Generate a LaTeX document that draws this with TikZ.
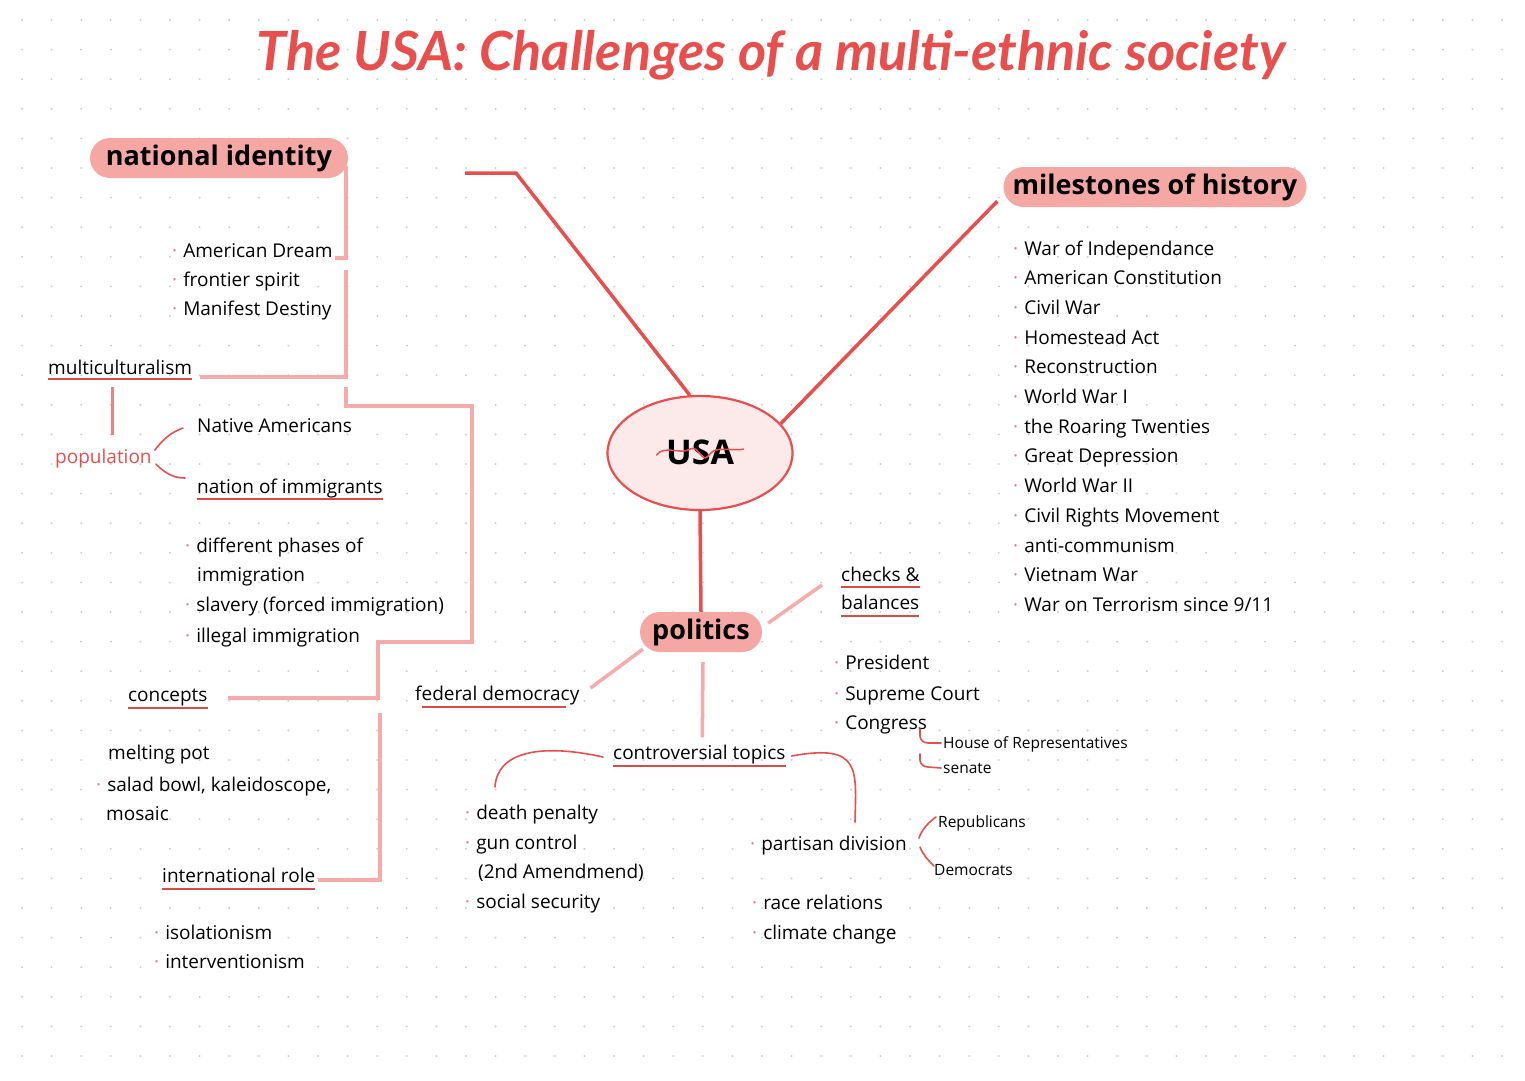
\documentclass[tikz,border=0pt]{standalone}
\usepackage{fontspec}
\setmainfont{Open Sans}
\newfontfamily\titlefont{Lato}
\usetikzlibrary{calc,shapes.geometric}
\definecolor{tred}{HTML}{E84F4C}
\definecolor{pinkfill}{HTML}{F5A7A4}
\definecolor{pinkline}{HTML}{F6AAAA}
\definecolor{midred}{HTML}{EE8080}
\definecolor{ulred}{HTML}{D94A48}
\definecolor{dotc}{HTML}{CFCFCF}
\definecolor{usafill}{HTML}{FCE9E9}
\definecolor{bul}{HTML}{E88080}
\newcommand{\bl}{{\color{bul}·}\hspace{6pt}}
\tikzset{
  txt/.style={anchor=base west, yshift=-7pt, inner sep=0pt, font=\fontsize{19}{22}\selectfont, text=black},
  smalltxt/.style={txt, yshift=1pt, font=\fontsize{15.5}{18}\selectfont},
  pill/.style={rounded corners=20pt, fill=pinkfill, inner sep=0pt, minimum height=40pt, font=\fontsize{27}{30}\selectfont\bfseries},
  redline/.style={draw=tred, line width=3.5pt},
  pinkln/.style={draw=pinkline, line width=3.5pt},
  ul/.style={draw=ulred, line width=2pt},
  brace/.style={draw=tred, line width=1.6pt, line cap=round},
}
\begin{document}
\begin{tikzpicture}[x=1pt,y=-1pt]
\useasboundingbox (0,0) rectangle (1525,1080);
\fill[white] (0,0) rectangle (1525,1080);
% dot grid
\foreach \i in {0,...,50}{\foreach \j in {0,...,35}{\fill[dotc] (22+29.6*\i,20+29.6*\j) circle (1.1);}}

% title
\node[font=\titlefont\fontsize{54}{58}\selectfont\bfseries\itshape, text=tred] (title) at (771,55) {The USA: Challenges of a multi-ethnic society};

% ---------- left branch texts ----------
\node[txt] (dream) at (172,250) {\bl American Dream};
\node[txt] (frontier) at (172,279) {\bl frontier spirit};
\node[txt] (manifest) at (172,308) {\bl Manifest Destiny};
\node[txt] (multi) at (48,367) {multiculturalism};
\node[txt, text=tred] (pop) at (55,456) {population};
\node[txt] (native) at (197,425) {Native Americans};
\node[txt] (nation) at (197,486) {nation of immigrants};
\node[txt] (phases) at (185,545) {\bl different phases of};
\node[txt] (immig) at (197,574) {immigration};
\node[txt] (slavery) at (185,604) {\bl slavery (forced immigration)};
\node[txt] (illegal) at (185,635) {\bl illegal immigration};
\node[txt] (concepts) at (128,694) {concepts};
\node[txt] (melting) at (108,752) {melting pot};
\node[txt] (salad) at (96,784) {\bl salad bowl, kaleidoscope,};
\node[txt] (mosaic) at (106,813) {mosaic};
\node[txt] (intl) at (162,875) {international role};
\node[txt] (iso) at (154,932) {\bl isolationism};
\node[txt] (inter) at (154,961) {\bl interventionism};

% underlines
\draw[ul] ($(multi.base west)+(0,5)$) -- ($(multi.base east)+(0,5)$);
\draw[ul] ($(nation.base west)+(0,6)$) -- ($(nation.base east)+(0,6)$);
\draw[ul] ($(concepts.base west)+(0,7)$) -- ($(concepts.base east)+(0,7)$);
\draw[ul] ($(intl.base west)+(0,7)$) -- ($(intl.base east)+(0,7)$);

% brackets (pink)
\coordinate (nie) at (348,158);
\coordinate (b1) at (335,258);
\coordinate (b2a) at (346,270);
\coordinate (b2b) at (200,377);
\coordinate (b3a) at (346,387);
\coordinate (b3b) at (228,698);
\coordinate (b4a) at (380,713);
\coordinate (b4b) at (318,880);
\draw[pinkln] ($(nie)+(-2,8)$) -- ($(nie)+(-2,100)$) -- (b1);
\draw[pinkln] (b2a) |- (b2b);
\draw[pinkln] (b3a) -- (346,406) -- (472,406) -- (472,642) -- (378,642) |- (b3b);
\draw[pinkln] (b4a) |- (b4b);
\node[pill, minimum width=258pt] (ni) at (219,158) {national identity};

\coordinate (mp1) at (112,387);
\coordinate (mp2) at (112,435);
\draw[draw=midred, line width=3pt] (mp1) -- (mp2);

% population brace
\draw[brace] ($(pop.east)+(3,-8)$) .. controls (164,438) and (172,432) .. (183,428);
\draw[brace] ($(pop.east)+(4,6)$) .. controls (164,472) and (172,478) .. (185,478);

% ---------- center ----------
\node[ellipse, draw=tred, line width=2.2pt, fill=usafill, minimum width=185pt, minimum height=114pt, inner sep=0pt] (usa) at (700,453) {};
\node[font=\fontsize{34}{36}\selectfont\bfseries] (usatxt) at (700,452) {USA};
\draw[draw=tred, line width=1.5pt, line cap=round] ($(usatxt.west)+(-6,3)$) .. controls +(8,-10) and +(-8,4) .. ($(usatxt.center)+(-12,-2)$) .. controls +(8,-4) and +(-6,-6) .. ($(usatxt.center)+(2,4)$) .. controls +(6,6) and +(-8,2) .. ($(usatxt.center)+(16,-2)$) .. controls +(8,-2) and +(-6,2) .. ($(usatxt.east)+(6,-3)$);
\coordinate (niend) at (465,173);
\draw[redline] (usa.100) -- (516,173) -- (niend);

% milestones
\node[pill, minimum width=303pt] (ms) at (1155,187) {milestones of history};
\draw[redline] (usa.20) -- ($(ms.south west)+(-6,-6)$);
\foreach \t [count=\k from 0] in {War of Independance, American Constitution, Civil War, Homestead Act, Reconstruction, World War I, the Roaring Twenties, Great Depression, World War II, Civil Rights Movement, anti-communism, Vietnam War, War on Terrorism since 9/11}{
  \node[txt] (m\k) at (1013,248+29.7*\k) {\bl \t};
}

% politics
\node[pill, minimum width=122pt] (pol) at (701,632) {politics};
\draw[redline] (usa.south) -- (pol.north);

\node[txt] (checks) at (841,574) {checks \&};
\node[txt] (balances) at (841,602) {balances};
\draw[ul] ($(checks.base west)+(0,6)$) -- ($(checks.base east)+(0,6)$);
\draw[ul] ($(balances.base west)+(0,7)$) -- ($(balances.base east)+(0,7)$);
\node[txt] (pres) at (834,662) {\bl President};
\node[txt] (court) at (834,693) {\bl Supreme Court};
\node[txt] (cong) at (834,722) {\bl Congress};
\node[smalltxt] (house) at (943,742) {House of Representatives};
\node[smalltxt] (senate) at (943,767) {senate};
\draw[brace] (920,729) -- (920,736) to[out=-90,in=180] (928,743) -- ($(house.base west)+(-2,-5)$);
\draw[brace] (920,754) -- (920,760) to[out=-90,in=180] (928,767) -- ($(senate.base west)+(-2,-5)$);

\node[txt] (fed) at (415,693) {federal democracy};
\draw[ul] ($(fed.base west)+(7,7)$) -- ($(fed.base east)+(-14,7)$);

\node[txt] (contro) at (613,752) {controversial topics};
\draw[ul] ($(contro.base west)+(0,7)$) -- ($(contro.base east)+(0,7)$);

\draw[pinkln] ($(pol.east)+(6,-9)$) -- ($(checks.base west)+(-19,4)$);
\draw[pinkln] ($(pol.south west)+(3,-3)$) -- ($(fed.base east)+(11,-12)$);
\draw[pinkln] ($(pol.south)+(2,10)$) -- ($(contro.north)+(3,-7)$);

\node[txt] (death) at (465,812) {\bl death penalty};
\node[txt] (gun) at (465,842) {\bl gun control};
\node[txt] (amend) at (478,871) {(2nd Amendmend)};
\node[txt] (social) at (465,901) {\bl social security};
\node[txt] (partisan) at (750,843) {\bl partisan division};
\node[smalltxt] (rep) at (938,821) {Republicans};
\node[smalltxt] (dem) at (934,869) {Democrats};
\node[txt] (race) at (752,902) {\bl race relations};
\node[txt] (climate) at (752,932) {\bl climate change};

\draw[brace] ($(contro.base west)+(-10,-2)$) .. controls (540,743) and (497,752) .. ($(death.base west)+(30,-32)$);
\draw[brace] ($(contro.base east)+(6,-3)$) .. controls (862,743) and (856,770) .. ($(partisan.base west)+(105,-28)$);
\draw[brace] ($(rep.base west)+(-2,-10)$) .. controls (926,824) and (921,832) .. (919,838);
\draw[brace] (920,847) .. controls (923,855) and (928,860) .. ($(dem.base west)+(0,-9)$);
\end{tikzpicture}
\end{document}
